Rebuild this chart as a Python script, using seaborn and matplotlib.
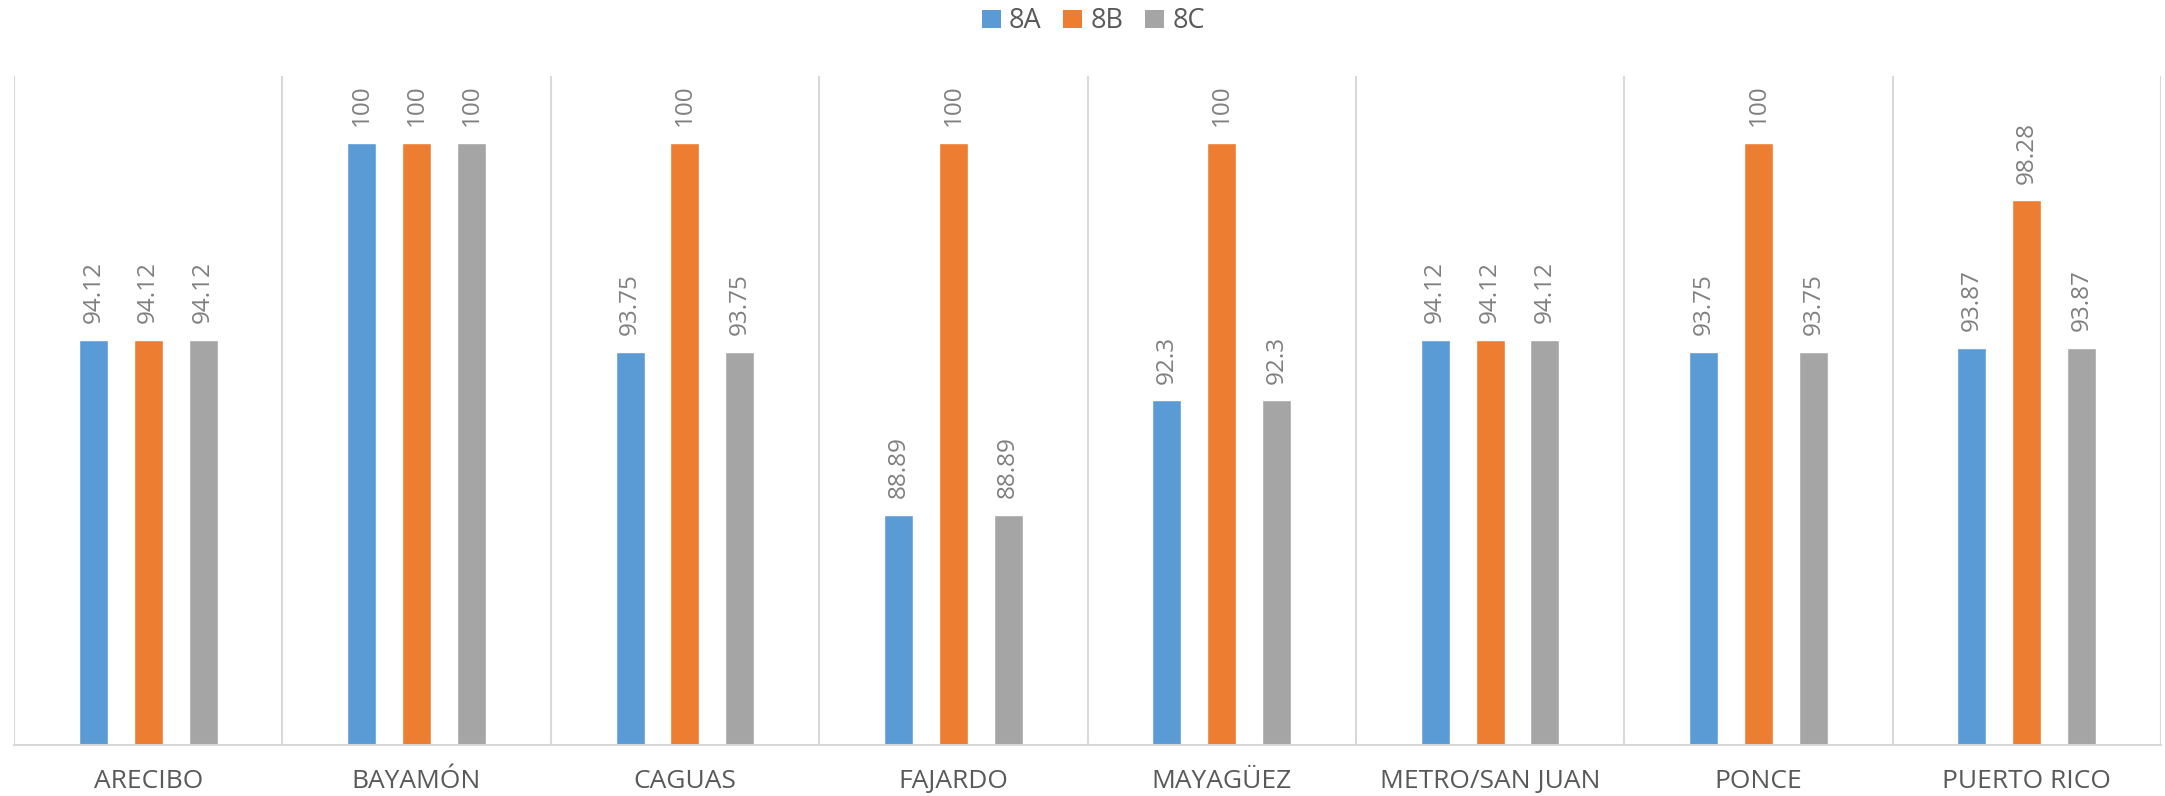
import matplotlib
matplotlib.use("Agg")
import matplotlib.pyplot as plt
import seaborn as sns
import pandas as pd
from matplotlib.patches import Patch

categories = ["ARECIBO", "BAYAMÓN", "CAGUAS", "FAJARDO", "MAYAGÜEZ",
              "METRO/SAN JUAN", "PONCE", "PUERTO RICO"]
series_names = ["8A", "8B", "8C"]
values_8a = [94.12, 100, 93.75, 88.89, 92.3, 94.12, 93.75, 93.87]
values_8b = [94.12, 100, 100, 100, 100, 94.12, 100, 98.28]
values_8c = [94.12, 100, 93.75, 88.89, 92.3, 94.12, 93.75, 93.87]
colors = ["#5B9BD5", "#ED7D31", "#A5A5A5"]

rows = []
for name, vals in zip(series_names, [values_8a, values_8b, values_8c]):
    for c, v in zip(categories, vals):
        rows.append({"cat": c, "series": name, "value": v})
df = pd.DataFrame(rows)

sns.set_theme(style="white")
plt.rcParams["font.family"] = ["Open Sans", "DejaVu Sans"]

fig = plt.figure(figsize=(21.65, 7.96), dpi=100)
ax = fig.add_axes([14 / 2165, 51 / 796, (2161 - 14) / 2165, (745 - 76) / 796])

sns.barplot(data=df, x="cat", y="value", hue="series", order=categories,
            hue_order=series_names, palette=colors, width=0.614, gap=0.472,
            saturation=1, errorbar=None, ax=ax, legend=False)

ax.set_ylim(82, 102)
ax.set_xlim(-0.5, len(categories) - 0.5)
ax.set_yticks([])
ax.set_xlabel("")
ax.set_ylabel("")
for s in ["left", "right", "top"]:
    ax.spines[s].set_visible(False)
ax.spines["bottom"].set_color("#d9d9d9")
ax.spines["bottom"].set_linewidth(1.5)

for b in range(len(categories) + 1):
    ax.axvline(b - 0.5, color="#d9d9d9", lw=1.5, zorder=0)

for cont in ax.containers:
    labels = [f"{v:g}" for v in cont.datavalues]
    ax.bar_label(cont, labels=labels, rotation=90, padding=12,
                 color="#7f7f7f", fontsize=17.5)

ax.tick_params(axis="x", length=0, pad=17, labelsize=19, labelcolor="#595959")

handles = [Patch(facecolor=c, edgecolor="none") for c in colors]
fig.legend(handles, series_names, loc="center", bbox_to_anchor=(0.505, 0.973),
           ncol=3, frameon=False, fontsize=19.5, handlelength=0.7, handleheight=0.7,
           handletextpad=0.3, columnspacing=0.8, labelcolor="#595959")

fig.savefig("out.png", dpi=100)
